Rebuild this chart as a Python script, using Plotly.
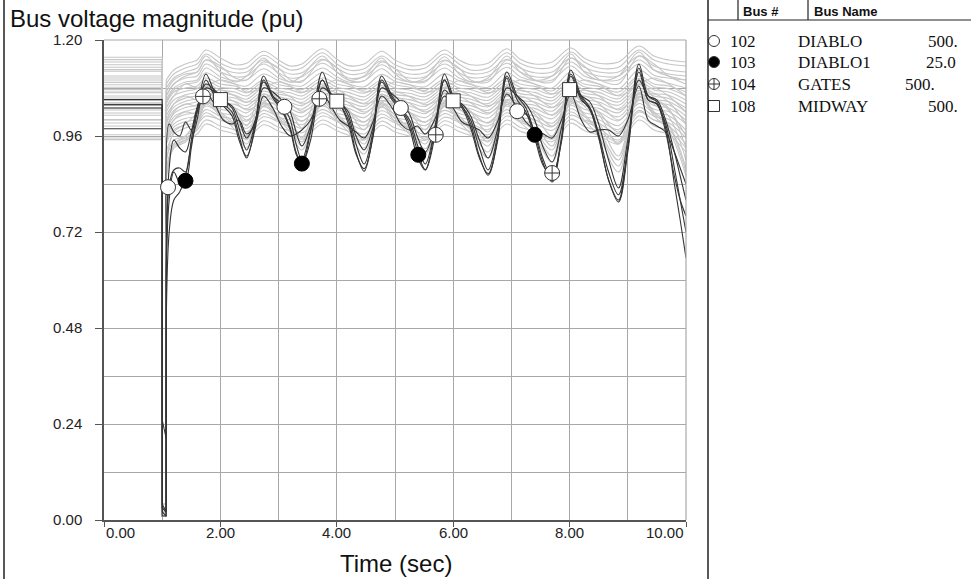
import plotly.graph_objects as go

W, H = 971, 579

# ------------------------------------------------------------------ data
FAULT_ON = 1.0
FAULT_OFF = 1.067

# knot times for the highlighted (dark) buses
T_DARK = [1.07, 1.12, 1.2, 1.3, 1.4, 1.5, 1.6,
          1.75, 1.9, 2.05, 2.2, 2.32, 2.45, 2.6,
          2.74, 2.9, 3.05, 3.2, 3.3, 3.4, 3.55,
          3.75, 3.9, 4.05, 4.2, 4.33, 4.47, 4.62,
          4.77, 4.95, 5.1, 5.25, 5.38, 5.52, 5.68,
          5.85, 6.0, 6.15, 6.3, 6.45, 6.6, 6.76,
          6.92, 7.1, 7.25, 7.4, 7.55, 7.7, 7.86,
          8.02, 8.2, 8.35, 8.5, 8.67, 8.84, 9.0,
          9.19, 9.35, 9.5, 9.65, 9.8, 9.9, 10.0]

dark_pre = [1.030, 1.038, 1.051, 1.038, 0.978]
dark_fault = [[0.25, 0.205], [0.03, 0.02], [0.02, 0.01], [0.04, 0.02], [0.01, 0.01]]

dark_103 = [0.62, 0.80, 0.87, 0.845, 0.848, 0.93, 1.02,
            1.115, 1.07, 1.04, 1.02, 0.96, 0.905, 0.99,
            1.11, 1.06, 1.03, 0.98, 0.92, 0.888, 0.97,
            1.12, 1.065, 1.04, 1.0, 0.92, 0.872, 0.96,
            1.11, 1.06, 1.03, 0.99, 0.925, 0.876, 0.97,
            1.115, 1.06, 1.035, 0.99, 0.91, 0.862, 0.95,
            1.12, 1.06, 1.03, 0.965, 0.89, 0.845, 0.95,
            1.125, 1.06, 1.03, 0.96, 0.85, 0.80, 0.93,
            1.14, 1.06, 1.045, 0.98, 0.84, 0.75, 0.655]
dark_102 = [0.55, 0.835, 0.875, 0.88, 0.87, 0.95, 1.03,
            1.09, 1.075, 1.05, 1.03, 0.98, 0.925, 0.995,
            1.095, 1.06, 1.04, 1.0, 0.94, 0.90, 0.975,
            1.10, 1.06, 1.045, 1.01, 0.94, 0.89, 0.97,
            1.10, 1.055, 1.03, 1.0, 0.94, 0.89, 0.975,
            1.10, 1.055, 1.035, 1.0, 0.93, 0.875, 0.96,
            1.105, 1.022, 1.015, 0.97, 0.90, 0.855, 0.955,
            1.11, 1.05, 1.03, 0.965, 0.87, 0.813, 0.93,
            1.13, 1.05, 1.04, 0.99, 0.88, 0.80, 0.72]
dark_104 = [0.50, 0.72, 0.80, 0.82, 0.86, 0.94, 1.0,
            1.10, 1.06, 1.035, 1.01, 0.95, 0.91, 0.98,
            1.10, 1.055, 1.025, 0.975, 0.915, 0.89, 0.95,
            1.10, 1.06, 1.04, 0.99, 0.915, 0.878, 0.955,
            1.095, 1.05, 1.025, 0.98, 0.91, 0.875, 0.955,
            1.10, 1.05, 1.03, 0.98, 0.905, 0.866, 0.945,
            1.11, 1.05, 1.02, 0.955, 0.885, 0.862, 0.945,
            1.115, 1.055, 1.025, 0.955, 0.85, 0.795, 0.92,
            1.12, 1.05, 1.04, 0.97, 0.86, 0.80, 0.76]
dark_108 = [0.60, 0.88, 0.95, 0.93, 0.92, 0.97, 1.03,
            1.08, 1.07, 1.048, 1.035, 1.0, 0.955, 1.0,
            1.08, 1.07, 1.05, 1.02, 0.97, 0.935, 0.985,
            1.08, 1.065, 1.045, 1.02, 0.96, 0.925, 0.98,
            1.08, 1.065, 1.045, 1.015, 0.96, 0.92, 0.98,
            1.075, 1.05, 1.04, 1.01, 0.95, 0.905, 0.975,
            1.08, 1.06, 1.04, 1.0, 0.93, 0.895, 0.98,
            1.08, 1.06, 1.045, 0.99, 0.90, 0.83, 0.95,
            1.10, 1.06, 1.05, 1.0, 0.92, 0.86, 0.80]
dark_other = [0.70, 0.99, 0.97, 0.96, 0.995, 0.975, 1.02,
              1.065, 1.04, 1.0, 0.99, 1.0, 0.965, 0.99,
              1.06, 1.03, 0.985, 0.96, 0.965, 0.975, 1.0,
              1.065, 1.035, 1.0, 0.985, 0.97, 0.955, 0.995,
              1.06, 1.03, 0.99, 0.975, 0.985, 0.965, 1.0,
              1.06, 1.03, 0.995, 0.985, 0.975, 0.955, 0.995,
              1.065, 1.03, 0.995, 0.975, 0.965, 0.955, 1.0,
              1.065, 1.0, 0.97, 0.975, 0.975, 0.96, 1.0,
              1.085, 1.0, 0.985, 0.97, 0.92, 0.88, 0.84]

# knot times for the other (grey) buses
T_GRAY = [1.07, 1.2, 1.4, 1.6,
          1.75, 2.0, 2.25, 2.45,
          2.74, 3.0, 3.2, 3.4,
          3.75, 4.0, 4.2, 4.47,
          4.77, 5.0, 5.25, 5.52,
          5.85, 6.1, 6.3, 6.6,
          6.92, 7.15, 7.4, 7.7,
          8.02, 8.25, 8.5, 8.84,
          9.19, 9.45, 9.7, 10.0]

gray_pre = [1.157, 1.151, 1.145, 1.138, 1.132, 1.122,
            1.100, 1.094, 1.088, 1.082, 1.076, 1.068,
            1.060, 1.055, 1.0425, 1.0175, 1.012, 1.001,
            0.9925, 0.963, 0.955, 0.951, 1.030, 1.0425,
            1.110, 1.070, 1.050, 1.025, 0.985, 1.126, 1.105, 1.000]
gray_fault = [0.03, 0.02, 0.04, 0.01, 0.02, 0.03,
              0.01, 0.02, 0.03, 0.01, 0.02, 0.01,
              0.03, 0.02, 0.01, 0.02, 0.03, 0.01,
              0.02, 0.01, 0.03, 0.02, 0.01, 0.02,
              0.02, 0.03, 0.01, 0.02, 0.04, 0.02, 0.01, 0.03]

gray_u1 = [1.10, 1.125, 1.14, 1.15, 1.175, 1.155, 1.138, 1.142, 1.172, 1.15, 1.135, 1.14,
           1.178, 1.152, 1.136, 1.14, 1.172, 1.15, 1.136, 1.14, 1.175, 1.15, 1.138, 1.142,
           1.178, 1.152, 1.14, 1.145, 1.18, 1.155, 1.142, 1.145, 1.185, 1.16, 1.15, 1.145]
gray_u2 = [1.09, 1.115, 1.13, 1.14, 1.165, 1.142, 1.128, 1.13, 1.162, 1.14, 1.125, 1.13,
           1.168, 1.14, 1.125, 1.128, 1.16, 1.138, 1.126, 1.13, 1.165, 1.14, 1.125, 1.13,
           1.168, 1.142, 1.13, 1.132, 1.17, 1.145, 1.13, 1.132, 1.175, 1.15, 1.14, 1.135]
gray_u3 = [1.08, 1.105, 1.12, 1.13, 1.16, 1.12, 1.095, 1.11, 1.155, 1.115, 1.095, 1.11,
           1.16, 1.12, 1.10, 1.11, 1.155, 1.115, 1.095, 1.105, 1.158, 1.115, 1.095, 1.105,
           1.16, 1.12, 1.10, 1.11, 1.165, 1.12, 1.10, 1.11, 1.17, 1.125, 1.11, 1.10]
gray_u4 = [1.07, 1.10, 1.115, 1.12, 1.15, 1.13, 1.118, 1.12, 1.15, 1.128, 1.115, 1.118,
           1.152, 1.13, 1.115, 1.118, 1.148, 1.128, 1.115, 1.118, 1.15, 1.128, 1.116, 1.12,
           1.152, 1.13, 1.118, 1.12, 1.155, 1.132, 1.12, 1.12, 1.16, 1.135, 1.125, 1.12]
gray_u5 = [1.06, 1.09, 1.105, 1.11, 1.14, 1.12, 1.108, 1.11, 1.14, 1.118, 1.105, 1.108,
           1.142, 1.12, 1.105, 1.108, 1.138, 1.118, 1.105, 1.108, 1.14, 1.118, 1.106, 1.11,
           1.142, 1.12, 1.108, 1.11, 1.145, 1.122, 1.11, 1.11, 1.15, 1.125, 1.115, 1.11]
gray_u6 = [1.05, 1.08, 1.095, 1.10, 1.13, 1.108, 1.098, 1.10, 1.128, 1.105, 1.095, 1.098,
           1.13, 1.108, 1.095, 1.098, 1.128, 1.105, 1.095, 1.098, 1.13, 1.105, 1.096, 1.10,
           1.132, 1.108, 1.098, 1.10, 1.135, 1.11, 1.10, 1.10, 1.14, 1.112, 1.105, 1.10]
gray_b1 = [1.04, 1.07, 1.08, 1.085, 1.105, 1.09, 1.085, 1.075, 1.10, 1.088, 1.083, 1.076,
           1.105, 1.09, 1.084, 1.075, 1.10, 1.088, 1.082, 1.074, 1.102, 1.088, 1.083, 1.074,
           1.104, 1.09, 1.084, 1.073, 1.106, 1.09, 1.084, 1.07, 1.11, 1.09, 1.085, 1.07]
gray_b2 = [1.03, 1.06, 1.072, 1.078, 1.098, 1.082, 1.078, 1.068, 1.094, 1.08, 1.076, 1.068,
           1.098, 1.082, 1.077, 1.067, 1.094, 1.08, 1.075, 1.066, 1.096, 1.08, 1.076, 1.066,
           1.097, 1.082, 1.077, 1.065, 1.10, 1.083, 1.077, 1.062, 1.104, 1.083, 1.078, 1.06]
gray_b3 = [1.02, 1.05, 1.063, 1.07, 1.09, 1.075, 1.07, 1.06, 1.087, 1.073, 1.068, 1.06,
           1.09, 1.075, 1.069, 1.058, 1.086, 1.072, 1.067, 1.058, 1.088, 1.073, 1.068, 1.057,
           1.09, 1.074, 1.069, 1.056, 1.092, 1.075, 1.069, 1.053, 1.096, 1.075, 1.07, 1.05]
gray_b4 = [1.01, 1.04, 1.055, 1.062, 1.082, 1.067, 1.062, 1.052, 1.08, 1.065, 1.06, 1.052,
           1.082, 1.067, 1.061, 1.05, 1.079, 1.064, 1.059, 1.05, 1.08, 1.065, 1.06, 1.049,
           1.082, 1.066, 1.061, 1.048, 1.084, 1.067, 1.061, 1.045, 1.088, 1.067, 1.062, 1.04]
gray_b5 = [1.0, 1.032, 1.047, 1.054, 1.075, 1.06, 1.055, 1.044, 1.072, 1.058, 1.052, 1.044,
           1.075, 1.059, 1.053, 1.042, 1.072, 1.057, 1.051, 1.042, 1.073, 1.058, 1.052, 1.041,
           1.075, 1.058, 1.053, 1.04, 1.077, 1.06, 1.053, 1.037, 1.08, 1.06, 1.054, 1.03]
gray_b6 = [0.99, 1.024, 1.039, 1.046, 1.068, 1.052, 1.047, 1.036, 1.065, 1.05, 1.044, 1.036,
           1.068, 1.051, 1.045, 1.034, 1.064, 1.049, 1.043, 1.034, 1.066, 1.05, 1.044, 1.033,
           1.068, 1.05, 1.045, 1.031, 1.07, 1.052, 1.045, 1.028, 1.074, 1.052, 1.046, 1.02]
gray_b7 = [0.98, 1.016, 1.031, 1.038, 1.06, 1.044, 1.039, 1.028, 1.058, 1.042, 1.036, 1.027,
           1.06, 1.043, 1.037, 1.026, 1.057, 1.041, 1.035, 1.025, 1.058, 1.042, 1.036, 1.024,
           1.06, 1.042, 1.037, 1.022, 1.062, 1.044, 1.037, 1.018, 1.066, 1.044, 1.038, 1.01]
gray_b8 = [0.975, 1.008, 1.022, 1.03, 1.052, 1.036, 1.03, 1.018, 1.05, 1.034, 1.028, 1.018,
           1.052, 1.035, 1.029, 1.016, 1.049, 1.033, 1.027, 1.016, 1.05, 1.034, 1.028, 1.015,
           1.052, 1.034, 1.029, 1.013, 1.054, 1.036, 1.029, 1.008, 1.058, 1.036, 1.03, 1.0]
gray_b9 = [0.965, 1.0, 1.014, 1.02, 1.044, 1.027, 1.021, 1.008, 1.042, 1.025, 1.019, 1.008,
           1.044, 1.026, 1.02, 1.006, 1.041, 1.024, 1.018, 1.006, 1.042, 1.025, 1.019, 1.005,
           1.044, 1.025, 1.02, 1.003, 1.046, 1.027, 1.02, 0.998, 1.05, 1.027, 1.021, 0.99]
gray_b10 = [0.955, 0.99, 1.004, 1.01, 1.035, 1.018, 1.011, 0.997, 1.033, 1.016, 1.009, 0.997,
            1.035, 1.017, 1.01, 0.995, 1.032, 1.015, 1.008, 0.995, 1.033, 1.016, 1.009, 0.994,
            1.035, 1.016, 1.01, 0.992, 1.037, 1.018, 1.01, 0.986, 1.041, 1.018, 1.011, 0.975]
gray_b11 = [0.945, 0.982, 0.996, 1.002, 1.026, 1.009, 1.002, 0.988, 1.024, 1.007, 1.0, 0.988,
            1.026, 1.008, 1.001, 0.986, 1.023, 1.006, 0.999, 0.986, 1.024, 1.007, 1.0, 0.985,
            1.026, 1.007, 1.001, 0.983, 1.028, 1.009, 1.001, 0.976, 1.032, 1.009, 1.002, 0.965]
gray_b12 = [0.94, 0.975, 0.988, 0.994, 1.018, 1.0, 0.993, 0.979, 1.016, 0.998, 0.991, 0.979,
            1.018, 0.999, 0.992, 0.977, 1.015, 0.997, 0.99, 0.977, 1.016, 0.998, 0.991, 0.976,
            1.018, 0.998, 0.992, 0.974, 1.02, 1.0, 0.992, 0.966, 1.024, 1.0, 0.993, 0.955]
gray_l1 = [0.90, 0.95, 0.96, 0.99, 1.05, 1.02, 0.99, 0.95, 1.045, 1.01, 0.985, 0.945,
           1.05, 1.015, 0.985, 0.94, 1.045, 1.01, 0.98, 0.94, 1.045, 1.01, 0.98, 0.935,
           1.05, 1.01, 0.975, 0.925, 1.055, 1.015, 0.975, 0.90, 1.07, 1.02, 0.99, 0.88]
gray_l2 = [0.88, 0.93, 0.945, 0.98, 1.04, 1.01, 0.975, 0.93, 1.035, 1.0, 0.97, 0.925,
           1.04, 1.0, 0.97, 0.915, 1.035, 0.995, 0.965, 0.915, 1.035, 0.995, 0.965, 0.905,
           1.04, 0.995, 0.96, 0.895, 1.045, 1.0, 0.96, 0.87, 1.06, 1.01, 0.975, 0.86]
gray_l3 = [0.87, 0.94, 0.955, 0.975, 1.0, 0.985, 0.975, 0.96, 0.998, 0.982, 0.972, 0.958,
           1.0, 0.983, 0.972, 0.956, 0.997, 0.98, 0.97, 0.955, 0.998, 0.981, 0.971, 0.954,
           1.0, 0.982, 0.972, 0.952, 1.002, 0.984, 0.972, 0.945, 1.01, 0.985, 0.974, 0.93]
gray_l4 = [0.86, 0.935, 0.95, 0.965, 0.99, 0.975, 0.965, 0.953, 0.988, 0.972, 0.962, 0.952,
           0.99, 0.973, 0.962, 0.95, 0.987, 0.97, 0.96, 0.949, 0.988, 0.971, 0.961, 0.948,
           0.99, 0.972, 0.962, 0.946, 0.992, 0.974, 0.962, 0.94, 1.0, 0.975, 0.964, 0.92]
gray_l5 = [0.85, 0.94, 0.96, 1.0, 1.07, 1.04, 1.01, 0.96, 1.065, 1.035, 1.005, 0.955,
           1.07, 1.035, 1.005, 0.95, 1.065, 1.03, 1.0, 0.95, 1.068, 1.03, 1.0, 0.945,
           1.07, 1.03, 0.995, 0.935, 1.075, 1.035, 0.995, 0.91, 1.09, 1.04, 1.01, 0.90]
gray_l6 = [0.89, 0.97, 0.99, 1.02, 1.085, 1.055, 1.03, 0.985, 1.08, 1.05, 1.025, 0.98,
           1.085, 1.05, 1.025, 0.975, 1.08, 1.045, 1.02, 0.975, 1.082, 1.045, 1.02, 0.97,
           1.085, 1.045, 1.015, 0.96, 1.09, 1.05, 1.015, 0.94, 1.10, 1.055, 1.03, 0.93]
gray_x1 = [1.03, 1.06, 1.09, 1.08, 1.085, 1.10, 1.09, 1.07, 1.08, 1.095, 1.085, 1.07,
           1.085, 1.10, 1.09, 1.07, 1.08, 1.095, 1.088, 1.07, 1.082, 1.098, 1.09, 1.068,
           1.085, 1.10, 1.09, 1.065, 1.085, 1.10, 1.09, 1.06, 1.09, 1.105, 1.09, 1.06]
gray_x2 = [0.99, 1.04, 1.06, 1.05, 1.06, 1.075, 1.06, 1.045, 1.055, 1.07, 1.058, 1.04,
           1.06, 1.075, 1.06, 1.04, 1.055, 1.07, 1.058, 1.038, 1.058, 1.072, 1.06, 1.036,
           1.06, 1.075, 1.06, 1.032, 1.06, 1.075, 1.06, 1.025, 1.065, 1.08, 1.06, 1.02]
gray_x3 = [0.97, 1.02, 1.04, 1.035, 1.05, 1.06, 1.045, 1.025, 1.045, 1.058, 1.042, 1.022,
           1.048, 1.06, 1.044, 1.02, 1.045, 1.057, 1.042, 1.02, 1.046, 1.058, 1.043, 1.018,
           1.048, 1.06, 1.043, 1.012, 1.05, 1.06, 1.042, 1.0, 1.055, 1.065, 1.045, 0.99]
gray_x4 = [0.95, 1.0, 1.02, 1.015, 1.04, 1.045, 1.025, 1.0, 1.035, 1.042, 1.022, 0.998,
           1.038, 1.045, 1.024, 0.995, 1.035, 1.04, 1.02, 0.995, 1.036, 1.042, 1.022, 0.992,
           1.038, 1.044, 1.022, 0.985, 1.04, 1.045, 1.02, 0.97, 1.05, 1.05, 1.025, 0.96]
gray_x5 = [0.92, 0.965, 0.98, 0.99, 1.01, 1.0, 0.985, 0.97, 1.008, 0.995, 0.982, 0.968,
           1.01, 0.996, 0.982, 0.965, 1.006, 0.993, 0.98, 0.965, 1.007, 0.994, 0.981, 0.963,
           1.01, 0.995, 0.98, 0.958, 1.012, 0.997, 0.98, 0.95, 1.02, 1.0, 0.985, 0.94]
gray_x6 = [1.06, 1.09, 1.11, 1.12, 1.15, 1.135, 1.105, 1.10, 1.145, 1.13, 1.10, 1.095,
           1.15, 1.132, 1.10, 1.098, 1.145, 1.128, 1.098, 1.095, 1.148, 1.13, 1.10, 1.095,
           1.15, 1.132, 1.10, 1.095, 1.155, 1.135, 1.102, 1.09, 1.16, 1.14, 1.11, 1.09]
gray_x7 = [1.045, 1.075, 1.09, 1.095, 1.118, 1.10, 1.09, 1.085, 1.115, 1.098, 1.088, 1.085,
           1.118, 1.10, 1.09, 1.083, 1.114, 1.097, 1.088, 1.083, 1.116, 1.098, 1.089, 1.082,
           1.118, 1.10, 1.09, 1.08, 1.12, 1.10, 1.09, 1.078, 1.125, 1.102, 1.092, 1.08]
gray_x8 = [0.86, 0.93, 0.95, 0.985, 1.045, 1.015, 0.985, 0.94, 1.04, 1.005, 0.978, 0.935,
           1.045, 1.008, 0.978, 0.93, 1.04, 1.003, 0.975, 0.928, 1.04, 1.003, 0.975, 0.92,
           1.045, 1.005, 0.97, 0.91, 1.05, 1.01, 0.97, 0.885, 1.065, 1.015, 0.985, 0.87]

# marker samples for the four monitored buses
mk_102_t = [1.1, 3.1, 5.1, 7.1]
mk_102_v = [0.832, 1.033, 1.030, 1.022]
mk_103_t = [1.4, 3.4, 5.4, 7.4]
mk_103_v = [0.848, 0.891, 0.913, 0.963]
mk_104_t = [1.7, 3.7, 5.7, 7.7]
mk_104_v = [1.059, 1.053, 0.963, 0.8675]
mk_108_t = [2.0, 4.0, 6.0, 8.0]
mk_108_v = [1.051, 1.047, 1.048, 1.076]

# legend table
bus_nums = ["102", "103", "104", "108"]
bus_names = ["DIABLO", "DIABLO1", "GATES", "MIDWAY"]
bus_kv = ["500.", "25.0", "500.", "500."]

x_ticks = [0, 2, 4, 6, 8, 10]
x_tick_text = ["0.00", "2.00", "4.00", "6.00", "8.00", "10.00"]
y_ticks = [0, 0.24, 0.48, 0.72, 0.96, 1.20]
y_tick_text = ["0.00", "0.24", "0.48", "0.72", "0.96", "1.20"]

# ------------------------------------------------------------------ style
GRAY = "#c6c6c6"
DARK = "#353535"
GRID = "#a8a8a8"
AXIS = "#555555"
SANS = "Liberation Sans, Arial, sans-serif"
SERIF = "Liberation Serif, Times New Roman, serif"
CLEAR = "rgba(0,0,0,0)"

# plot area in pixels
PL, PR, PT, PB = 104, 686, 40, 520

fig = go.Figure()


def add_bus(pre, fault, times, post, color, width):
    fig.add_trace(go.Scatter(
        x=[0, FAULT_ON, FAULT_ON, FAULT_OFF, times[0]],
        y=[pre, pre, fault[0], fault[1], post[0]],
        mode="lines", line=dict(color=color, width=width),
        hoverinfo="skip", showlegend=False))
    fig.add_trace(go.Scatter(
        x=times, y=post, mode="lines",
        line=dict(color=color, width=width, shape="spline", smoothing=1.0),
        hoverinfo="skip", showlegend=False))


gray_series = [gray_u1, gray_u2, gray_u3, gray_u4, gray_u5, gray_u6,
               gray_b1, gray_b2, gray_b3, gray_b4, gray_b5, gray_b6,
               gray_b7, gray_b8, gray_b9, gray_b10, gray_b11, gray_b12,
               gray_l1, gray_l2, gray_l3, gray_l4, gray_l5, gray_l6,
               gray_x1, gray_x2, gray_x3, gray_x4, gray_x5, gray_x6, gray_x7, gray_x8]
for pre, fv, s in zip(gray_pre, gray_fault, gray_series):
    add_bus(pre, [fv, fv], T_GRAY, s, GRAY, 1.1)

dark_series = [dark_103, dark_102, dark_104, dark_108, dark_other]
for pre, fv, s in zip(dark_pre, dark_fault, dark_series):
    add_bus(pre, fv, T_DARK, s, DARK, 1.1)

# markers on the curves
mk_line = dict(color="#333333", width=1)
fig.add_trace(go.Scatter(x=mk_102_t, y=mk_102_v, mode="markers", hoverinfo="skip", showlegend=False,
                         marker=dict(symbol="circle", size=15, color="white", line=mk_line)))
fig.add_trace(go.Scatter(x=mk_103_t, y=mk_103_v, mode="markers", hoverinfo="skip", showlegend=False,
                         marker=dict(symbol="circle", size=15, color="black", line=dict(color="black", width=1))))
fig.add_trace(go.Scatter(x=mk_104_t, y=mk_104_v, mode="markers", hoverinfo="skip", showlegend=False,
                         marker=dict(symbol="circle-cross", size=15, color="white", line=mk_line)))
fig.add_trace(go.Scatter(x=mk_108_t, y=mk_108_v, mode="markers", hoverinfo="skip", showlegend=False,
                         marker=dict(symbol="square", size=14, color="white", line=mk_line)))

# legend-table symbols on a pixel overlay
row_y = [41, 62, 84, 106]
fig.add_trace(go.Scatter(
    x=[714] * 4, y=row_y, mode="markers", xaxis="x2", yaxis="y2",
    hoverinfo="skip", showlegend=False,
    marker=dict(symbol=["circle", "circle", "circle-cross", "square"], size=11,
                color=["white", "black", "white", "white"],
                line=dict(color="#333333", width=1))))

annotations = []
for tv, tt in zip(x_ticks, x_tick_text):
    anchor = "left" if tv == x_ticks[0] else ("right" if tv == x_ticks[-1] else "center")
    annotations.append(dict(x=tv, y=532, xref="x", yref="y2", text=tt, showarrow=False,
                            xanchor=anchor, yanchor="middle",
                            font=dict(family=SANS, size=15, color="#222")))
annotations.append(dict(x=8, y=18, xref="x2", yref="y2", text="Bus voltage magnitude (pu)",
                        showarrow=False, xanchor="left", yanchor="middle",
                        font=dict(family=SANS, size=24, color="#111")))
annotations.append(dict(x=396, y=563, xref="x2", yref="y2", text="Time (sec)",
                        showarrow=False, xanchor="center", yanchor="middle",
                        font=dict(family=SANS, size=24, color="#111")))
annotations.append(dict(x=741, y=11, xref="x2", yref="y2", text="<b>Bus #</b>", showarrow=False,
                        xanchor="left", yanchor="middle", font=dict(family=SANS, size=13, color="#111")))
annotations.append(dict(x=812, y=11, xref="x2", yref="y2", text="<b>Bus Name</b>", showarrow=False,
                        xanchor="left", yanchor="middle", font=dict(family=SANS, size=13, color="#111")))
kv_right = [960, 958, 937, 960]
for ry, num, nm, kv, kr in zip(row_y, bus_nums, bus_names, bus_kv, kv_right):
    annotations.append(dict(x=728, y=ry, xref="x2", yref="y2", text=num, showarrow=False,
                            xanchor="left", yanchor="middle", font=dict(family=SERIF, size=17, color="#111")))
    annotations.append(dict(x=796, y=ry, xref="x2", yref="y2", text=nm, showarrow=False,
                            xanchor="left", yanchor="middle", font=dict(family=SERIF, size=17, color="#111")))
    annotations.append(dict(x=kr, y=ry, xref="x2", yref="y2", text=kv, showarrow=False,
                            xanchor="right", yanchor="middle", font=dict(family=SERIF, size=17, color="#111")))

shapes = [
    dict(type="line", xref="x2", yref="y2", x0=4, x1=4, y0=0, y1=H, line=dict(color="#222", width=1.5)),
    dict(type="line", xref="x2", yref="y2", x0=708, x1=708, y0=0, y1=H, line=dict(color="#222", width=1.5)),
    dict(type="line", xref="x2", yref="y2", x0=708, x1=W, y0=20, y1=20, line=dict(color="#222", width=1.2)),
    dict(type="line", xref="x2", yref="y2", x0=738, x1=738, y0=0, y1=20, line=dict(color="#222", width=1.2)),
    dict(type="line", xref="x2", yref="y2", x0=808, x1=808, y0=0, y1=20, line=dict(color="#222", width=1.2)),
    dict(type="line", xref="x2", yref="y2", x0=PL, x1=PR, y0=PT, y1=PT, line=dict(color=GRID, width=1.2)),
    dict(type="line", xref="x2", yref="y2", x0=PR, x1=PR, y0=PT, y1=PB, line=dict(color=GRID, width=1.2)),
]

fig.update_layout(
    width=W, height=H,
    margin=dict(l=0, r=0, t=0, b=0),
    paper_bgcolor="white", plot_bgcolor=CLEAR,
    showlegend=False,
    xaxis=dict(domain=[PL / W, PR / W], range=[0, 10], tickvals=x_ticks, showticklabels=False,
               ticks="outside", ticklen=5, tickcolor=AXIS, showgrid=True, gridcolor=GRID, gridwidth=1,
               minor=dict(dtick=1, showgrid=True, gridcolor=GRID, gridwidth=1),
               showline=True, linecolor=AXIS, linewidth=1.5, zeroline=False, fixedrange=True,
               automargin=False),
    yaxis=dict(domain=[1 - PB / H, 1 - PT / H], range=[0, 1.2], tickvals=y_ticks, ticktext=y_tick_text,
               ticks="outside", ticklen=7, tickcolor=AXIS, ticklabelstandoff=10,
               tickfont=dict(family=SANS, size=15, color="#222"),
               showgrid=True, gridcolor=GRID, gridwidth=1,
               minor=dict(dtick=0.12, showgrid=True, gridcolor=GRID, gridwidth=1),
               showline=True, linecolor=AXIS, linewidth=1.5, zeroline=False, fixedrange=True,
               automargin=False),
    xaxis2=dict(domain=[0, 1], range=[0, W], visible=False, anchor="y2", fixedrange=True),
    yaxis2=dict(domain=[0, 1], range=[H, 0], visible=False, anchor="x2", fixedrange=True),
    annotations=annotations,
    shapes=shapes,
)

fig.write_html("out.html")
